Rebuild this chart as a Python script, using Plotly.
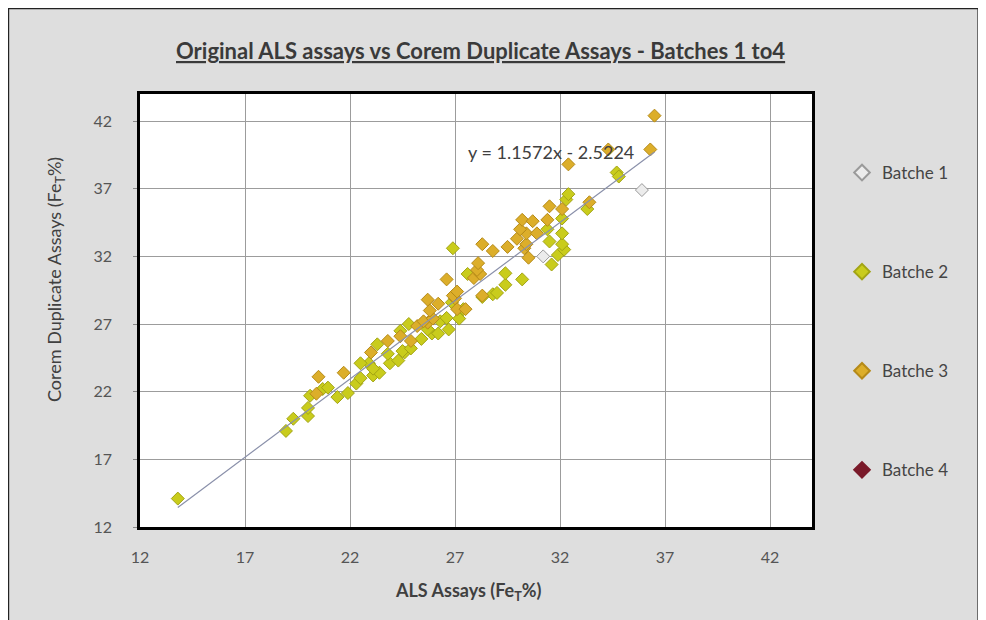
import plotly.graph_objects as go

# ---- data ----
b1_x = [35.9, 31.2]
b1_y = [36.9, 32.0]

b2_x = [13.8, 18.95, 19.3, 20.0, 20.0, 20.1, 20.7, 20.95, 21.4, 21.9, 22.3, 22.5, 22.9,
        23.1, 23.4, 23.9, 24.3, 24.6, 23.1, 23.8, 24.5, 24.9, 25.4, 25.9, 26.7,
        26.3, 24.4, 25.7, 26.2, 24.8, 26.6, 27.4, 27.2, 26.85, 28.8, 28.3, 29.0,
        29.4, 29.4, 30.2, 27.6, 26.9, 31.6, 31.9, 32.2, 32.1, 32.1, 31.5, 31.4,
        32.1, 32.3, 32.4, 33.3, 34.7, 34.8, 22.5, 23.3]
b2_y = [14.1, 19.1, 20.0, 20.2, 20.8, 21.7, 22.2, 22.3, 21.6, 21.9, 22.6, 23.0, 24.1,
        23.2, 23.4, 24.1, 24.3, 24.9, 23.7, 24.8, 25.0, 25.2, 25.9, 26.3, 26.6,
        27.2, 26.5, 26.6, 26.3, 27.0, 27.45, 28.1, 27.4, 28.6, 29.2, 29.0, 29.3,
        29.9, 30.75, 30.3, 30.7, 32.6, 31.4, 32.1, 32.5, 32.9, 33.7, 33.1, 34.0,
        34.8, 36.2, 36.6, 35.5, 38.2, 37.9, 24.1, 25.5]

b3_x = [20.4, 20.5, 21.7, 23.0, 23.8, 24.4, 24.9, 25.2, 25.7, 25.5, 25.95, 25.8, 26.2,
        25.7, 27.1, 27.0, 26.9, 27.5, 28.3, 26.6, 27.1, 27.9, 28.2, 28.05, 28.1,
        28.3, 28.8, 30.3, 30.5, 29.5, 30.4, 29.95, 30.4, 30.9, 30.1, 30.2, 30.7,
        31.4, 31.5, 32.1, 33.4, 32.4, 34.3, 36.3, 36.5]
b3_y = [21.85, 23.1, 23.4, 24.9, 25.75, 26.1, 25.75, 26.85, 27.1, 27.2, 27.4, 28.0, 28.5,
        28.8, 28.1, 28.9, 29.1, 28.1, 29.1, 30.3, 29.4, 30.4, 30.7, 31.0, 31.5,
        32.9, 32.4, 32.6, 31.9, 32.7, 32.9, 33.3, 33.7, 33.7, 34.0, 34.7, 34.6,
        34.7, 35.7, 35.5, 36.0, 38.8, 39.9, 39.9, 42.4]

b4_x = []
b4_y = []

trend_slope = 1.1572
trend_intercept = -2.5224
equation_text = "y = 1.1572x - 2.5224"

x_ticks = [12, 17, 22, 27, 32, 37, 42]
y_ticks = [12, 17, 22, 27, 32, 37, 42]

# ---- figure ----
fig = go.Figure()

def add_batch(name, xs, ys, fill, edge, group):
    fig.add_trace(go.Scatter(
        x=xs if xs else [None], y=ys if ys else [None],
        mode="markers", name=name, legendgroup=group, showlegend=True,
        marker=dict(symbol="diamond", size=10, color=fill,
                    line=dict(color=edge, width=1)),
    ))

add_batch("Batche 1", b1_x, b1_y, "#ececec", "#9a9a9a", "g1")
add_batch("Batche 2", b2_x, b2_y, "#c9cc1c", "#a2a414", "g2")
add_batch("Batche 3", b3_x, b3_y, "#dcae2a", "#b58a18", "g3")
add_batch("Batche 4", b4_x, b4_y, "#7a1a2a", "#7a1a2a", "g4")

all_x = b1_x + b2_x + b3_x + b4_x
xmin, xmax = min(all_x), max(all_x)
fig.add_trace(go.Scatter(
    x=[xmin, xmax],
    y=[trend_slope * xmin + trend_intercept, trend_slope * xmax + trend_intercept],
    mode="lines", line=dict(color="#8a90aa", width=1.2),
    showlegend=False, hoverinfo="skip",
))

# The page has an 8px body margin; positions below are screen pixels.
OFF = 8
FW, FH = 986 - OFF, 620 - OFF
L, R, T, B = 140, 812, 94, 527          # plot area on screen
W, H = R - L, B - T
def px(p):
    return (p - L) / W
def py(q):
    return (B - q) / H

fig.update_layout(
    width=FW, height=FH,
    margin=dict(l=L - OFF, r=FW - (R - OFF), t=T - OFF, b=FH - (B - OFF), pad=0),
    paper_bgcolor="white",
    plot_bgcolor="white",
    font=dict(family="Lato, Open Sans, sans-serif", color="#505050", size=14),
    showlegend=True,
    legend=dict(
        x=px(842), y=py(155), xanchor="left", yanchor="top",
        bgcolor="rgba(0,0,0,0)", font=dict(size=17, color="#454545"),
        tracegroupgap=74, itemsizing="constant",
    ),
    shapes=[
        dict(type="rect", xref="paper", yref="paper", layer="below",
             x0=px(8.6), x1=px(978), y0=py(640), y1=py(8.6),
             fillcolor="#dedede", line=dict(color="#222222", width=1.2)),
        dict(type="rect", xref="paper", yref="paper", layer="below",
             x0=0, x1=1, y0=0, y1=1, fillcolor="white", line=dict(width=0)),
    ],
    annotations=[
        dict(text="<u><b>Original ALS assays vs Corem Duplicate Assays - Batches 1 to4</b></u>",
             xref="paper", yref="paper", x=px(480), y=py(50),
             xanchor="center", yanchor="middle", showarrow=False,
             font=dict(size=22, color="#3a3a3a")),
        dict(text=equation_text, xref="x", yref="y",
             x=12 + (551 - L) / (W / 32), y=44 - (152 - T) / (H / 32),
             xanchor="center", yanchor="middle", showarrow=False,
             font=dict(size=18, color="#404040")),
        dict(text="<b>ALS Assays (Fe<sub>T</sub>%)</b>",
             xref="paper", yref="paper", x=px(468), y=py(591),
             xanchor="center", yanchor="middle", showarrow=False,
             font=dict(size=18, color="#404040")),
        dict(text="Corem Duplicate Assays (Fe<sub>T</sub>%)",
             xref="paper", yref="paper", x=px(55), y=py(280),
             xanchor="center", yanchor="middle", showarrow=False, textangle=-90,
             font=dict(size=18, color="#404040")),
    ],
)

fig.update_xaxes(
    range=[12, 44], tickvals=x_ticks, ticktext=[str(v) for v in x_ticks],
    showgrid=True, gridcolor="#9c9c9c", gridwidth=1,
    showline=True, linecolor="black", linewidth=2.5, mirror=True,
    zeroline=False, ticks="", ticklabelstandoff=14,
    tickfont=dict(size=16, color="#555555"),
)
fig.update_yaxes(
    range=[12, 44], tickvals=y_ticks, ticktext=[str(v) for v in y_ticks],
    showgrid=True, gridcolor="#9c9c9c", gridwidth=1,
    showline=True, linecolor="black", linewidth=2.5, mirror=True,
    zeroline=False, ticks="outside", ticklen=4, tickcolor="#888888",
    ticklabelstandoff=18,
    tickfont=dict(size=16, color="#555555"),
)

fig.write_html("out.html")
